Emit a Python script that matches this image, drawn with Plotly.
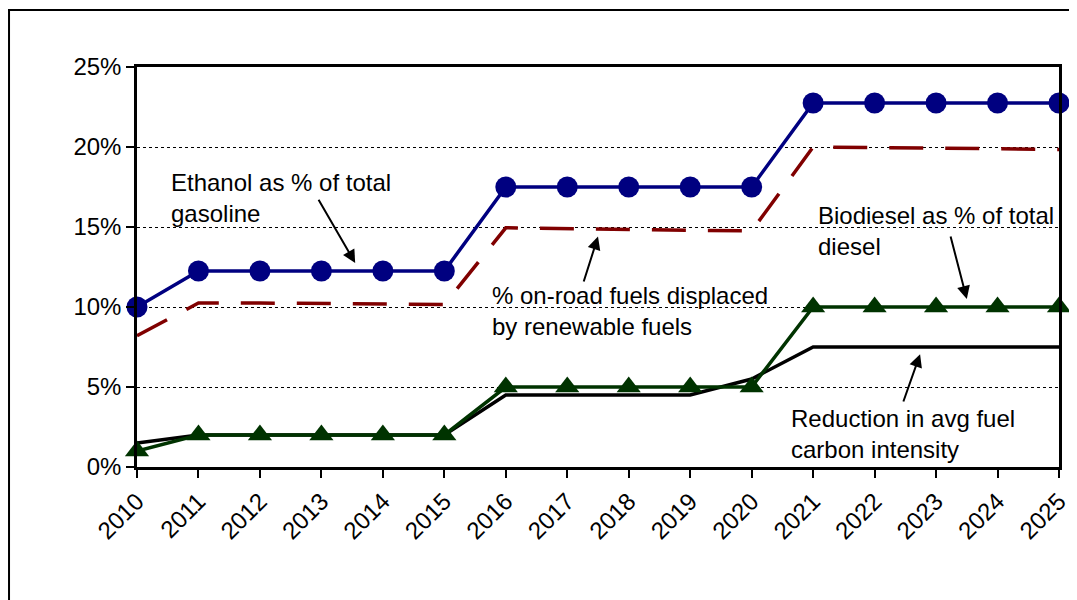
import plotly.graph_objects as go

years = list(range(2010, 2026))
year_labels = [str(y) for y in years]

ethanol = [10.0, 12.25, 12.25, 12.25, 12.25, 12.25, 17.5, 17.5, 17.5, 17.5, 17.5,
           22.75, 22.75, 22.75, 22.75, 22.75]
renewable = [8.2, 10.25, 10.25, 10.2, 10.2, 10.15, 14.95, 14.9, 14.85, 14.8, 14.75,
             20.0, 19.97, 19.93, 19.9, 19.85]
biodiesel = [1.0, 2.0, 2.0, 2.0, 2.0, 2.0, 5.0, 5.0, 5.0, 5.0, 5.0,
             10.0, 10.0, 10.0, 10.0, 10.0]
carbon = [1.5, 2.0, 2.0, 2.0, 2.0, 2.0, 4.5, 4.5, 4.5, 4.5, 5.5,
          7.5, 7.5, 7.5, 7.5, 7.5]

y_ticks = [0, 5, 10, 15, 20, 25]
y_tick_labels = ["0%", "5%", "10%", "15%", "20%", "25%"]

FONT = "Liberation Sans, Arial, sans-serif"
FS = 24

fig = go.Figure()
fig.add_trace(go.Scatter(x=years, y=carbon, mode="lines",
                         line=dict(color="#000000", width=3.5),
                         cliponaxis=False, name="Reduction in avg fuel carbon intensity"))
fig.add_trace(go.Scatter(x=years, y=renewable, mode="lines",
                         line=dict(color="#800000", width=3.5, dash="34px,22px"),
                         cliponaxis=False, name="% on-road fuels displaced by renewable fuels"))
fig.add_trace(go.Scatter(x=years, y=biodiesel, mode="lines+markers",
                         line=dict(color="#003300", width=3.5),
                         marker=dict(symbol="triangle-up", size=21, color="#003300"),
                         cliponaxis=False, name="Biodiesel as % of total diesel"))
fig.add_trace(go.Scatter(x=years, y=ethanol, mode="lines+markers",
                         line=dict(color="#000080", width=3.5),
                         marker=dict(symbol="circle", size=21, color="#000080"),
                         cliponaxis=False, name="Ethanol as % of total gasoline"))

texts = [
    ("Ethanol as % of total<br>gasoline", 2010.52, 16.8),
    ("% on-road fuels displaced<br>by renewable fuels", 2015.74, 9.75),
    ("Biodiesel as % of total<br>diesel", 2021.05, 14.75),
    ("Reduction in avg fuel<br>carbon intensity", 2020.61, 2.06),
]
annotations = []
for t, x, y in texts:
    annotations.append(dict(text=t, x=x, y=y, xref="x", yref="y", showarrow=False,
                            xanchor="left", yanchor="middle", align="left",
                            font=dict(family=FONT, size=FS, color="#000000")))

arrows = [
    (2013.55, 12.75, 2012.94, 16.8),
    (2017.5, 14.4, 2017.26, 11.5),
    (2023.5, 10.5, 2023.23, 14.5),
    (2022.74, 7.05, 2022.46, 4.0),
]
for hx, hy, tx, ty in arrows:
    annotations.append(dict(text="", x=hx, y=hy, ax=tx, ay=ty, xref="x", yref="y",
                            axref="x", ayref="y", showarrow=True, arrowhead=2,
                            arrowsize=1.3, arrowwidth=2, arrowcolor="#000000"))

fig.update_layout(
    width=1069, height=592,
    margin=dict(l=129, r=18, t=59, b=133, autoexpand=False),
    paper_bgcolor="white", plot_bgcolor="white",
    showlegend=False,
    font=dict(family=FONT, size=FS, color="#000000"),
    annotations=annotations,
    shapes=[dict(type="rect", xref="paper", yref="paper",
                 x0=-0.1388, x1=1.05, y0=-0.5, y1=1.1425,
                 line=dict(color="#000000", width=2), layer="below")],
)
fig.update_xaxes(range=[2010, 2025], tickvals=years, ticktext=year_labels,
                 tickangle=-45, ticks="outside", ticklen=8, tickwidth=1.5, tickcolor="#000000",
                 showline=True, linecolor="#000000", linewidth=2.5, mirror=True,
                 showgrid=False, zeroline=False, automargin=False,
                 tickfont=dict(family=FONT, size=FS, color="#000000"))
fig.update_yaxes(range=[0, 25], tickvals=y_ticks, ticktext=y_tick_labels,
                 ticks="outside", ticklen=8, tickwidth=1.5, tickcolor="#000000",
                 showline=True, linecolor="#000000", linewidth=2.5, mirror=True,
                 showgrid=True, gridcolor="#000000", gridwidth=1, griddash="dot",
                 zeroline=False, automargin=False,
                 tickfont=dict(family=FONT, size=FS, color="#000000"))

fig.write_html("out.html")
